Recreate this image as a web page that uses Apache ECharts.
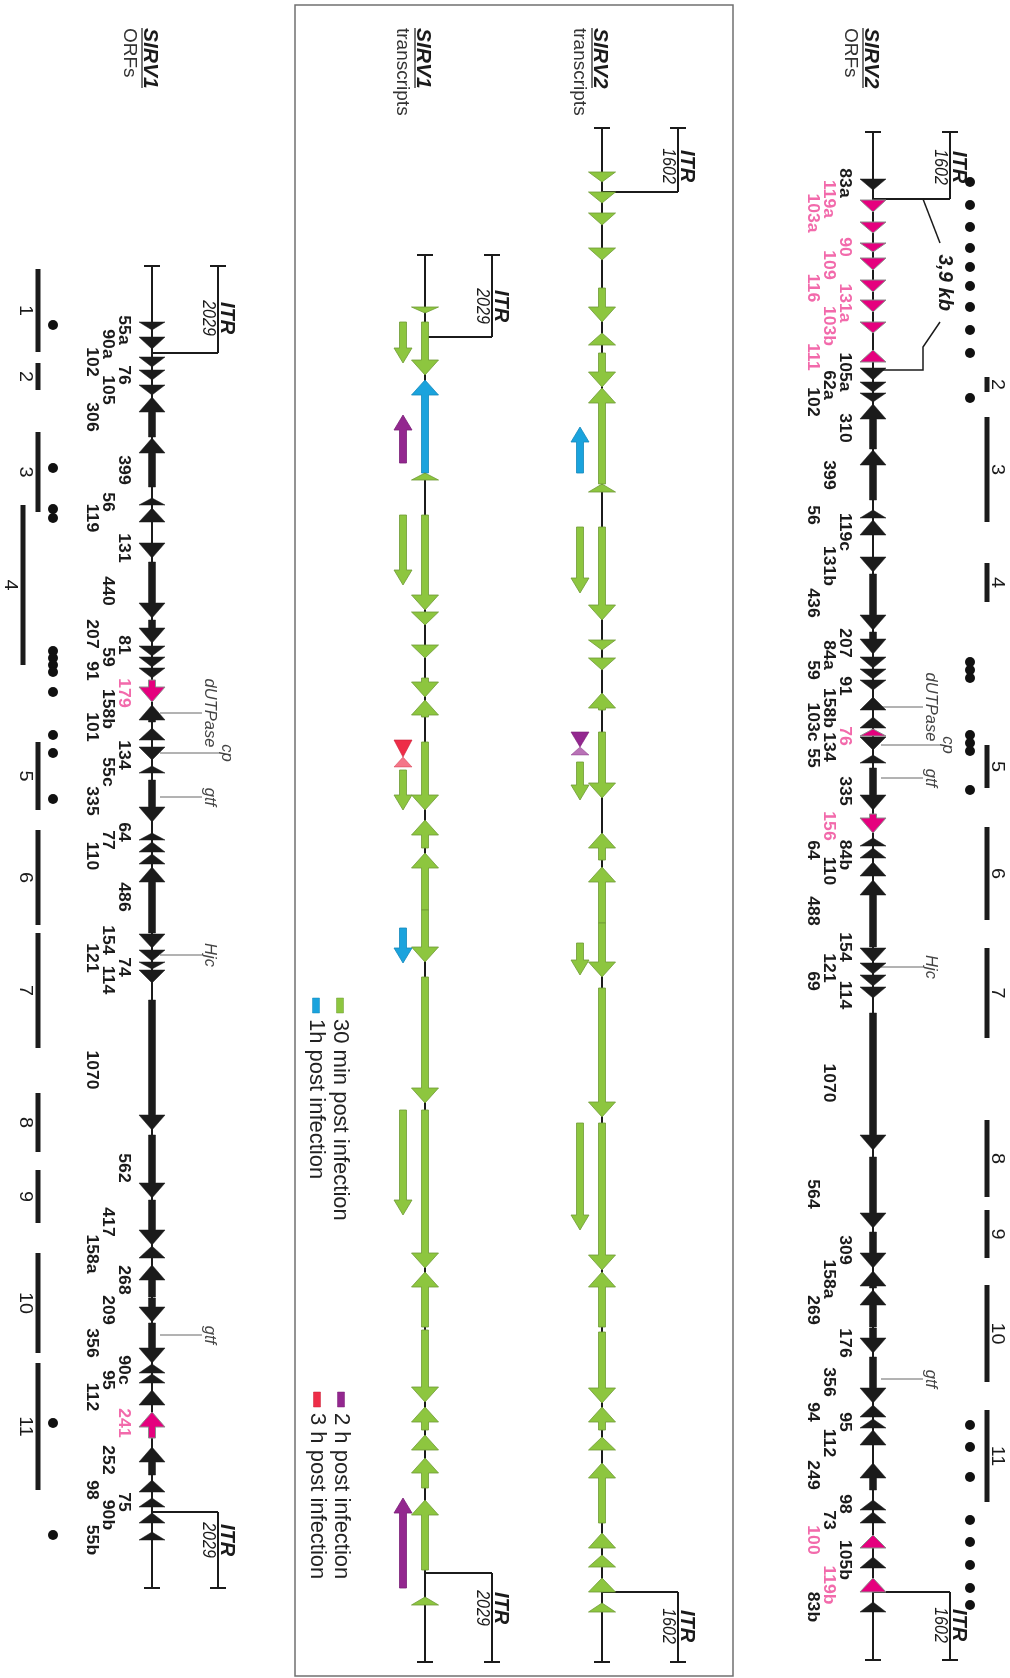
<!DOCTYPE html>
<html>
<head>
<meta charset="utf-8">
<title>SIRV1 / SIRV2 ORFs and transcripts</title>
<script src="https://cdn.jsdelivr.net/npm/echarts@6/dist/echarts.min.js"></script>
<style>
  html, body { margin: 0; padding: 0; background: #fff; }
  #main { width: 1010px; height: 1678px; }
</style>
</head>
<body>
<div id="main"></div>
<script>
// all map positions are in drawing units along the genome (0 = top of the page)
// ORFs: [from, to, name, label lane, label position, highlighted]
// from -> to gives the direction the arrow points
var sirv2Orfs = [
  [179, 190, '83a', 1, 183, 0], [200, 212, '119a', 2, 199, 1], [222, 233, '103a', 3, 213, 1],
  [243, 252, '90', 1, 247, 1], [258, 270, '109', 2, 265, 1], [280, 292, '116', 3, 288, 1],
  [300, 312, '131a', 1, 303, 1], [322, 333, '103b', 2, 326, 1], [362, 350, '111', 3, 357, 1],
  [368, 380, '105a', 1, 372, 0], [382, 392, '62a', 2, 385, 0], [393, 402, '102', 3, 402, 0],
  [449, 404, '310', 1, 428, 0], [500, 450, '399', 2, 475, 0], [518, 510, '56', 3, 515, 0],
  [535, 520, '119c', 1, 532, 0], [557, 572, '131b', 2, 566, 0], [574, 630, '436', 3, 603, 0],
  [632, 654, '207', 1, 643, 0], [657, 668, '84a', 2, 655, 0], [669, 679, '59', 3, 670, 0],
  [680, 690, '91', 1, 686, 0], [710, 697, '158b', 2, 708, 0], [728, 717, '103c', 3, 722, 0],
  [736, 729, '76', 1, 736, 1], [737, 750, '134', 2, 747, 0], [763, 755, '55', 3, 758, 0],
  [768, 810, '335', 1, 791, 0], [814, 833, '156', 2, 826, 1], [846, 838, '64', 3, 850, 0],
  [858, 848, '84b', 1, 855, 0], [876, 862, '110', 2, 871, 0], [947, 880, '488', 3, 911, 0],
  [948, 962, '154', 1, 947, 0], [963, 974, '121', 2, 968, 0], [975, 986, '69', 3, 981, 0],
  [987, 998, '114', 1, 995, 0], [1013, 1150, '1070', 2, 1083, 0], [1157, 1228, '564', 3, 1194, 0],
  [1232, 1268, '309', 1, 1250, 0], [1288, 1271, '158a', 2, 1279, 0], [1327, 1290, '269', 3, 1310, 0],
  [1328, 1353, '176', 1, 1343, 0], [1357, 1403, '356', 2, 1382, 0], [1417, 1405, '95', 1, 1422, 0],
  [1428, 1419, '94', 3, 1412, 0], [1445, 1430, '112', 2, 1443, 0], [1490, 1463, '249', 3, 1475, 0],
  [1510, 1500, '98', 1, 1504, 0], [1523, 1512, '73', 2, 1520, 0], [1548, 1535, '100', 3, 1540, 1],
  [1568, 1557, '105b', 1, 1560, 0], [1592, 1578, '119b', 2, 1585, 1], [1612, 1602, '83b', 3, 1607, 0]
];
var sirv1Orfs = [
  [322, 330, '55a', 1, 330, 0], [337, 349, '90a', 2, 344, 0], [357, 367, '102', 3, 362, 0],
  [370, 380, '76', 1, 375, 0], [385, 395, '105', 2, 390, 0], [437, 397, '306', 3, 417, 0],
  [487, 438, '399', 1, 470, 0], [505, 498, '56', 2, 502, 0], [522, 508, '119', 3, 518, 0],
  [543, 558, '131', 1, 548, 0], [562, 618, '440', 2, 591, 0], [620, 643, '207', 3, 634, 0],
  [646, 656, '81', 1, 645, 0], [657, 667, '59', 2, 657, 0], [668, 678, '91', 3, 671, 0],
  [680, 702, '179', 1, 693, 1], [722, 705, '158b', 2, 709, 0], [740, 728, '101', 3, 727, 0],
  [747, 760, '134', 1, 755, 0], [773, 766, '55c', 2, 772, 0], [780, 822, '335', 3, 801, 0],
  [840, 833, '64', 1, 832, 0], [852, 842, '77', 2, 840, 0], [864, 854, '110', 3, 856, 0],
  [933, 867, '486', 1, 897, 0], [934, 948, '154', 2, 940, 0], [950, 961, '121', 3, 958, 0],
  [962, 969, '74', 1, 967, 0], [970, 983, '114', 2, 980, 0], [1000, 1130, '1070', 3, 1070, 0],
  [1135, 1198, '562', 1, 1168, 0], [1200, 1245, '417', 2, 1222, 0], [1258, 1246, '158a', 3, 1254, 0],
  [1297, 1265, '268', 1, 1280, 0], [1298, 1322, '209', 2, 1310, 0], [1323, 1363, '356', 3, 1343, 0],
  [1373, 1364, '90c', 1, 1370, 0], [1383, 1374, '95', 2, 1380, 0], [1405, 1390, '112', 3, 1397, 0],
  [1438, 1412, '241', 1, 1423, 1], [1475, 1447, '252', 2, 1460, 0], [1492, 1480, '98', 3, 1490, 0],
  [1507, 1498, '75', 1, 1502, 0], [1523, 1513, '90b', 2, 1515, 0], [1540, 1532, '55b', 3, 1540, 0]
];

// transcripts: [from, to, time]  time 0 = 30 min, 1 = 1 h, 2 = 2 h, 3 = 3 h post infection
var sirv2Tx = [
  [172, 182, 0], [192, 203, 0], [213, 225, 0], [248, 260, 0], [288, 322, 0], [345, 333, 0],
  [353, 387, 0], [484, 388, 0], [492, 484, 0], [527, 620, 0], [640, 650, 0], [658, 670, 0],
  [710, 693, 0], [732, 798, 0], [860, 833, 0], [923, 867, 0], [923, 977, 0], [988, 1117, 0],
  [1123, 1270, 0], [1327, 1272, 0], [1332, 1403, 0], [1430, 1407, 0], [1450, 1437, 0],
  [1523, 1463, 0], [1548, 1533, 0], [1567, 1555, 0], [1592, 1578, 0], [1612, 1603, 0]
];
var sirv1Tx = [
  [307, 313, 0], [322, 375, 0], [473, 380, 1], [480, 473, 0], [515, 610, 0], [612, 625, 0],
  [645, 658, 0], [678, 697, 0], [717, 700, 0], [742, 810, 0], [848, 820, 0], [910, 853, 0],
  [910, 962, 0], [977, 1103, 0], [1110, 1268, 0], [1327, 1272, 0], [1330, 1402, 0],
  [1430, 1407, 0], [1450, 1435, 0], [1488, 1458, 0], [1570, 1500, 0], [1605, 1597, 0]
];
// extra transcripts drawn beside each map
var sirv2Side = [[473, 427, 1], [527, 593, 0], [762, 800, 0], [943, 975, 0], [1123, 1230, 0]];
var sirv1Side = [[322, 363, 0], [463, 415, 2], [515, 585, 0], [770, 810, 0], [928, 963, 1], [1110, 1215, 0], [1588, 1498, 2]];
// short opposed transcripts: [top, waist, bottom, time]
var sirv2Bowtie = [[732, 747, 755, 2]];
var sirv1Bowtie = [[740, 757, 767, 3]];

// numbered regions: [label, from, to, lane]
var sirv2Regions = [['2', 377, 392, 0], ['3', 417, 522, 0], ['4', 563, 602, 0], ['5', 745, 788, 0], ['6', 827, 920, 0],
  ['7', 948, 1038, 0], ['8', 1120, 1197, 0], ['9', 1210, 1258, 0], ['10', 1285, 1382, 0], ['11', 1410, 1502, 0]];
var sirv1Regions = [['1', 269, 352, 0], ['2', 363, 390, 0], ['3', 432, 512, 0], ['4', 505, 665, 1], ['5', 742, 810, 0],
  ['6', 830, 925, 0], ['7', 933, 1048, 0], ['8', 1093, 1152, 0], ['9', 1170, 1223, 0], ['10', 1253, 1353, 0], ['11', 1363, 1490, 0]];
var sirv2Dots = [182, 205, 227, 248, 267, 286, 307, 330, 353, 398, 662, 670, 678, 735, 743, 751, 790,
  1425, 1447, 1477, 1520, 1542, 1565, 1588, 1605];
var sirv1Dots = [325, 468, 509, 518, 651, 658, 665, 672, 692, 735, 753, 799, 1423, 1535];

// named genes: [name, position]
var sirv2Genes = [['dUTPase', 707], ['cp', 745], ['gtf', 778], ['Hjc', 967], ['gtf', 1379]];
var sirv1Genes = [['dUTPase', 713], ['cp', 753], ['gtf', 797], ['Hjc', 955], ['gtf', 1335]];

// maps: [title, subtitle, ITR size, top, bottom, ITR end top, ITR end bottom, ITR label top, ITR label bottom]
var maps = [
  ['SIRV2', 'ORFs', '1602', 132, 1660, 199, 1592, 167, 1625],
  ['SIRV2', 'transcripts', '1602', 128, 1662, 192, 1592, 166, 1626],
  ['SIRV1', 'transcripts', '2029', 255, 1662, 337, 1573, 306, 1608],
  ['SIRV1', 'ORFs', '2029', 266, 1588, 353, 1512, 318, 1540]
];
var kbSpan = [199, 370, '3,9 kb'];
var legendItems = ['30 min post infection', '1h post infection', '2 h post infection', '3 h post infection'];

// ---- layout ----
var trackX = [873, 602, 425, 152];
var itrX = [950, 678, 492, 218];
var laneDx = [-28, -44, -60];
var FONT = '"Liberation Sans", Arial, sans-serif';
var ink = '#1b1b1b';
var pink = '#e5007e';
var pinkText = '#f26aab';
var timeFill = ['#8dc63f', '#1aa3dd', '#93278f', '#ee2d48'];
var timeStroke = ['#6f9a35', '#1488bb', '#7a1f77', '#c92037'];

function vtext(x, y, str, o) {
  o = o || {};
  return {
    type: 'text', x: x, y: y, rotation: -Math.PI / 2, scaleX: o.sx || 1, scaleY: o.sy || 1, z2: 20,
    style: {
      text: str, fill: o.color || ink,
      font: (o.style ? o.style + ' ' : '') + (o.size || 16) + 'px ' + FONT,
      align: o.align || 'center', verticalAlign: 'middle',
      textAlign: o.align || 'center', textVerticalAlign: 'middle'
    }
  };
}
function seg(x1, y1, x2, y2, color, w) {
  return { type: 'line', shape: { x1: x1, y1: y1, x2: x2, y2: y2 }, style: { stroke: color, lineWidth: w } };
}
function arrow(cx, y0, y1, headLen, half, bar) {
  var dir = y1 > y0 ? 1 : -1;
  var len = Math.abs(y1 - y0);
  var h = Math.min(len, headLen);
  var yb = y1 - dir * h;
  if (len - h < 1) return [[cx - half, yb], [cx + half, yb], [cx, y1]];
  return [[cx - bar, y0], [cx + bar, y0], [cx + bar, yb], [cx + half, yb], [cx, y1], [cx - half, yb], [cx - bar, yb]];
}

function featureSeries(x, list, o) {
  return {
    type: 'custom', clip: false, silent: true, z: o.z || 3,
    data: list.map(function (f) { return [x, f[0], f[1]]; }),
    renderItem: function (params, api) {
      var f = list[params.dataIndex];
      var a = api.coord([api.value(0), api.value(1)]);
      var b = api.coord([api.value(0), api.value(2)]);
      var st = o.style(f);
      var kids = [{
        type: 'polygon', shape: { points: arrow(a[0], a[1], b[1], o.head, o.half, o.bar) },
        style: { fill: st[0], stroke: st[1], lineWidth: st[2] }
      }];
      if (o.labels) {
        var p = api.coord([api.value(0) + laneDx[f[3] - 1], f[4]]);
        kids.push(vtext(p[0], p[1], f[2], { size: 16, sx: 1.1, sy: 1.05, style: 'bold', color: f[5] ? pinkText : ink }));
      }
      return { type: 'group', children: kids };
    }
  };
}
function orfStyle(f) { return f[5] ? [pink, '#8c8c8c', 1] : [ink, ink, 0.5]; }
function txStyle(f) { return [timeFill[f[2]], timeStroke[f[2]], 0.8]; }

function bowtieSeries(x, list) {
  return {
    type: 'custom', clip: false, silent: true, z: 3,
    data: list.map(function (f) { return [x, f[0], f[1], f[2]]; }),
    renderItem: function (params, api) {
      var t = list[params.dataIndex][3];
      var a = api.coord([api.value(0), api.value(1)]);
      var m = api.coord([api.value(0), api.value(2)]);
      var b = api.coord([api.value(0), api.value(3)]);
      var cx = a[0], hw = 9;
      return { type: 'group', children: [
        { type: 'polygon', shape: { points: [[cx - hw, a[1]], [cx + hw, a[1]], [cx, m[1]]] }, style: { fill: timeFill[t], stroke: timeStroke[t], lineWidth: 0.6 } },
        { type: 'polygon', shape: { points: [[cx - hw, b[1]], [cx + hw, b[1]], [cx, m[1]]] }, style: { fill: timeFill[t], opacity: 0.65, stroke: timeStroke[t], lineWidth: 0.6 } }
      ] };
    }
  };
}

function regionSeries(x, list, laneStep, labelDx) {
  return {
    type: 'custom', clip: false, silent: true, z: 2,
    data: list.map(function (r) { return [x + r[3] * laneStep, r[1], r[2]]; }),
    renderItem: function (params, api) {
      var r = list[params.dataIndex];
      var a = api.coord([api.value(0), api.value(1)]);
      var b = api.coord([api.value(0), api.value(2)]);
      return { type: 'group', children: [
        seg(a[0], a[1], b[0], b[1], ink, 5),
        vtext(a[0] + labelDx, (a[1] + b[1]) / 2, r[0], { size: 18, sx: 1.1 })
      ] };
    }
  };
}

function geneSeries(x, list) {
  return {
    type: 'custom', clip: false, silent: true, z: 1,
    data: list.map(function (g) { return [x, g[1]]; }),
    renderItem: function (params, api) {
      var g = list[params.dataIndex];
      var p = api.coord([api.value(0), api.value(1)]);
      var far = g[0] === 'cp' ? 67 : 50;
      var tx = g[0] === 'cp' ? 75 : 58;
      return { type: 'group', children: [
        seg(p[0] + 8, p[1], p[0] + far, p[1], '#666', 1),
        vtext(p[0] + tx, p[1], g[0], { size: 15, style: 'italic', color: '#444', sy: 1.1, sx: 1.1 })
      ] };
    }
  };
}

function dotSeries(x, list) {
  return {
    type: 'scatter', silent: true, z: 2, symbol: 'circle', symbolSize: 10,
    itemStyle: { color: '#111', opacity: 1 },
    data: list.map(function (y) { return [x, y]; })
  };
}

var mapSeries = {
  type: 'custom', clip: false, silent: true, z: 1,
  data: maps.map(function (m, i) { return [trackX[i], m[3], m[4], itrX[i]]; }),
  renderItem: function (params, api) {
    var i = params.dataIndex, m = maps[i];
    var top = api.coord([api.value(0), api.value(1)]);
    var bot = api.coord([api.value(0), api.value(2)]);
    var ix = api.coord([api.value(3), 0])[0];
    var ax = top[0];
    var iTop = api.coord([ax, m[5]])[1], iBot = api.coord([ax, m[6]])[1];
    var kids = [
      seg(ax, top[1], ax, bot[1], ink, 2),
      seg(ax - 8, top[1], ax + 8, top[1], ink, 2),
      seg(ax - 8, bot[1], ax + 8, bot[1], ink, 2),
      seg(ix, top[1], ix, iTop, ink, 2),
      seg(ix - 8, top[1], ix + 8, top[1], ink, 2),
      seg(ix, iTop, ax, iTop, ink, 2),
      seg(ix, bot[1], ix, iBot, ink, 2),
      seg(ix - 8, bot[1], ix + 8, bot[1], ink, 2),
      seg(ix, iBot, ax, iBot, ink, 2),
      vtext(ix + 9, api.coord([ax, m[7]])[1], 'ITR', { size: 20, style: 'italic bold' }),
      vtext(ix - 10, api.coord([ax, m[7]])[1], m[2], { size: 16, style: 'italic', sy: 1.1 }),
      vtext(ix + 9, api.coord([ax, m[8]])[1], 'ITR', { size: 20, style: 'italic bold' }),
      vtext(ix - 10, api.coord([ax, m[8]])[1], m[2], { size: 16, style: 'italic', sy: 1.1 }),
      vtext(ax - 2, 28, m[0], { size: 21, style: 'italic bold', align: 'left' }),
      seg(ax - 10, 28, ax - 10, 88, ink, 1.2),
      vtext(ax - 23, 28, m[1], { size: 19, align: 'left', color: '#333' })
    ];
    if (i === 0) {
      var k0 = api.coord([ax, kbSpan[0]])[1], k1 = api.coord([ax, kbSpan[1]])[1];
      kids.push(
        { type: 'polyline', shape: { points: [[ax + 50, k0], [ax + 67, k0 + 44]] }, style: { stroke: ink, lineWidth: 1.5, fill: null } },
        { type: 'polyline', shape: { points: [[ax + 67, k1 - 48], [ax + 50, k1 - 23], [ax + 50, k1], [ax, k1]] }, style: { stroke: ink, lineWidth: 1.5, fill: null } },
        vtext(ax + 72, (k0 + k1) / 2 - 2, kbSpan[2], { size: 20, style: 'italic bold' })
      );
    }
    return { type: 'group', children: kids };
  }
};

var legendGraphics = [];
[[340, 998], [316, 998], [341, 1392], [317, 1392]].forEach(function (p, i) {
  legendGraphics.push({ type: 'rect', shape: { x: p[0] - 3.5, y: p[1], width: 7, height: 15 }, style: { fill: timeFill[i], stroke: timeStroke[i], lineWidth: 0.5 } });
  legendGraphics.push(vtext(p[0], p[1] + 21, legendItems[i], { size: 22, align: 'left', color: '#222' }));
});
legendGraphics.push({ type: 'rect', shape: { x: 295, y: 5, width: 438, height: 1671 }, style: { fill: 'none', stroke: '#707070', lineWidth: 1.5 }, z: -10 });

var chart = echarts.init(document.getElementById('main'));
chart.setOption({
  animation: false,
  backgroundColor: '#fff',
  grid: { left: 0, right: 0, top: 0, bottom: 0 },
  xAxis: { type: 'value', min: 0, max: 1010, show: false },
  yAxis: { type: 'value', min: 0, max: 1678, inverse: true, show: false },
  graphic: legendGraphics,
  series: [
    mapSeries,
    featureSeries(trackX[0], sirv2Orfs, { style: orfStyle, head: 15, half: 13, bar: 3.5, labels: true }),
    featureSeries(trackX[3], sirv1Orfs, { style: orfStyle, head: 15, half: 13, bar: 3.5, labels: true }),
    featureSeries(trackX[1], sirv2Tx, { style: txStyle, head: 15, half: 13.5, bar: 3.5 }),
    featureSeries(trackX[2], sirv1Tx, { style: txStyle, head: 15, half: 13.5, bar: 3.5 }),
    featureSeries(trackX[1] - 22, sirv2Side, { style: txStyle, head: 15, half: 9, bar: 3.5 }),
    featureSeries(trackX[2] - 22, sirv1Side, { style: txStyle, head: 15, half: 9, bar: 3.5 }),
    bowtieSeries(trackX[1] - 22, sirv2Bowtie),
    bowtieSeries(trackX[2] - 22, sirv1Bowtie),
    regionSeries(987, sirv2Regions, 0, 10),
    regionSeries(38, sirv1Regions, -15, -13),
    dotSeries(970, sirv2Dots),
    dotSeries(53, sirv1Dots),
    geneSeries(trackX[0], sirv2Genes),
    geneSeries(trackX[3], sirv1Genes)
  ]
});
</script>
</body>
</html>
